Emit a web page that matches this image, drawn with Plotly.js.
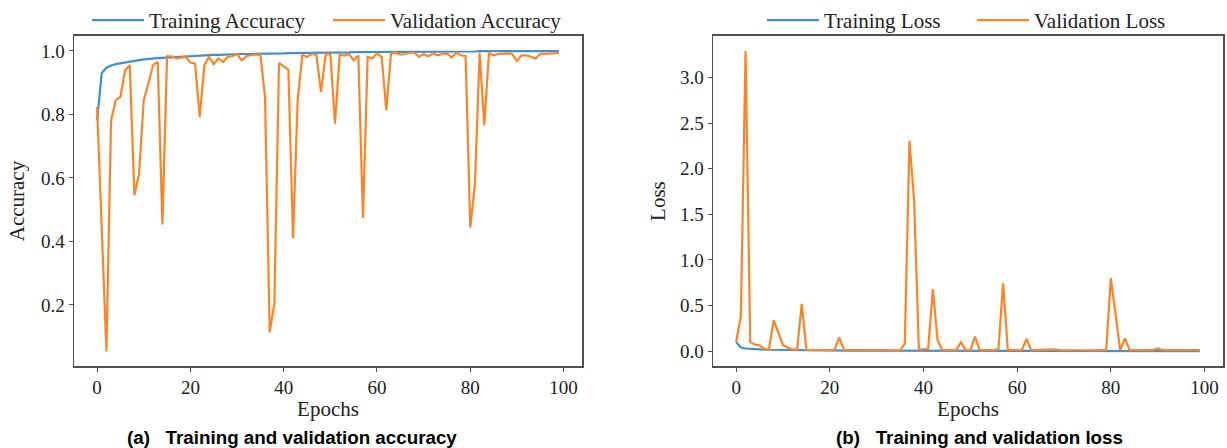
<!DOCTYPE html>
<html>
<head>
<meta charset="utf-8">
<script src="https://cdn.plot.ly/plotly-3.0.1.min.js"></script>
<style>html,body{margin:0;padding:0;background:#fff;}#chart{width:1227px;height:448px;}</style>
</head>
<body>
<div id="chart"></div>
<script>
// ---- data ----
const epochs = Array.from({length: 100}, (_, i) => i);

const trainAccuracy = [
  0.780, 0.930, 0.947, 0.954, 0.958, 0.961, 0.964, 0.967, 0.969, 0.971,
  0.973, 0.975, 0.976, 0.977, 0.978, 0.979, 0.980, 0.981, 0.982, 0.983,
  0.984, 0.985, 0.985, 0.986, 0.986, 0.987, 0.987, 0.988, 0.988, 0.989,
  0.989, 0.990, 0.990, 0.990, 0.991, 0.991, 0.991, 0.991, 0.992, 0.992,
  0.992, 0.993, 0.993, 0.993, 0.993, 0.994, 0.994, 0.994, 0.994, 0.994,
  0.995, 0.995, 0.995, 0.995, 0.995, 0.996, 0.996, 0.996, 0.996, 0.996,
  0.996, 0.997, 0.997, 0.997, 0.997, 0.997, 0.997, 0.997, 0.997, 0.998,
  0.998, 0.998, 0.998, 0.998, 0.998, 0.998, 0.998, 0.998, 0.998, 0.998,
  0.998, 0.998, 0.999, 0.999, 0.999, 0.999, 0.999, 0.999, 0.999, 0.999,
  0.999, 0.999, 0.999, 0.999, 0.999, 0.999, 0.999, 0.999, 0.999, 0.999
];

const valAccuracy = [
  0.823, 0.440, 0.054, 0.781, 0.845, 0.855, 0.939, 0.955, 0.545, 0.613,
  0.845, 0.897, 0.955, 0.965, 0.453, 0.983, 0.983, 0.976, 0.979, 0.981,
  0.963, 0.960, 0.792, 0.955, 0.981, 0.958, 0.976, 0.965, 0.981, 0.983,
  0.990, 0.970, 0.983, 0.987, 0.988, 0.988, 0.855, 0.114, 0.203, 0.962,
  0.951, 0.941, 0.411, 0.845, 0.988, 0.981, 0.990, 0.988, 0.871, 0.988,
  0.990, 0.771, 0.988, 0.985, 0.990, 0.970, 0.985, 0.474, 0.981, 0.976,
  0.992, 0.981, 0.813, 0.992, 0.994, 0.988, 0.990, 0.994, 0.994, 0.981,
  0.990, 0.983, 0.992, 0.986, 0.990, 0.992, 0.979, 0.994, 0.986, 0.983,
  0.443, 0.580, 0.994, 0.766, 0.992, 0.986, 0.990, 0.992, 0.992, 0.990,
  0.968, 0.986, 0.986, 0.981, 0.976, 0.990, 0.990, 0.992, 0.992, 0.994
];

const trainLoss = [
  0.100, 0.040, 0.030, 0.025, 0.022, 0.020, 0.018, 0.016, 0.015, 0.014,
  0.013, 0.012, 0.012, 0.011, 0.011, 0.010, 0.010, 0.009, 0.009, 0.009,
  0.008, 0.008, 0.008, 0.008, 0.007, 0.007, 0.007, 0.007, 0.007, 0.006,
  0.006, 0.006, 0.006, 0.006, 0.006, 0.005, 0.005, 0.005, 0.005, 0.005,
  0.005, 0.005, 0.005, 0.005, 0.004, 0.004, 0.004, 0.004, 0.004, 0.004,
  0.004, 0.004, 0.004, 0.004, 0.004, 0.004, 0.003, 0.003, 0.003, 0.003,
  0.003, 0.003, 0.003, 0.003, 0.003, 0.003, 0.003, 0.003, 0.003, 0.003,
  0.003, 0.003, 0.003, 0.003, 0.003, 0.002, 0.002, 0.002, 0.002, 0.002,
  0.002, 0.002, 0.002, 0.002, 0.002, 0.002, 0.002, 0.002, 0.002, 0.002,
  0.002, 0.002, 0.002, 0.002, 0.002, 0.002, 0.002, 0.002, 0.002, 0.002
];

const valLoss = [
  0.100, 0.390, 3.290, 0.100, 0.073, 0.066, 0.026, 0.020, 0.340, 0.210,
  0.066, 0.040, 0.020, 0.015, 0.520, 0.015, 0.012, 0.012, 0.013, 0.012,
  0.012, 0.014, 0.153, 0.015, 0.012, 0.013, 0.012, 0.011, 0.012, 0.013,
  0.011, 0.012, 0.010, 0.011, 0.012, 0.010, 0.080, 2.310, 1.650, 0.020,
  0.020, 0.030, 0.680, 0.120, 0.012, 0.011, 0.012, 0.013, 0.100, 0.012,
  0.012, 0.160, 0.013, 0.011, 0.012, 0.012, 0.020, 0.745, 0.012, 0.011,
  0.012, 0.013, 0.135, 0.012, 0.011, 0.012, 0.010, 0.011, 0.020, 0.012,
  0.011, 0.012, 0.010, 0.011, 0.012, 0.011, 0.012, 0.010, 0.011, 0.012,
  0.800, 0.400, 0.012, 0.140, 0.012, 0.011, 0.010, 0.011, 0.012, 0.011,
  0.030, 0.012, 0.011, 0.012, 0.013, 0.011, 0.010, 0.011, 0.012, 0.011
];

const xTicks = [0, 20, 40, 60, 80, 100];
const accTicks = [0.2, 0.4, 0.6, 0.8, 1.0];
const lossTicks = [0.0, 0.5, 1.0, 1.5, 2.0, 2.5, 3.0];

// ---- style ----
const W = 1227, H = 448;
const BLUE = '#3f8fd2', ORANGE = '#fd8424';
const FRAME = '#505050';
const serif = 'Liberation Serif, Times New Roman, serif';
const px = v => v / W;
const py = v => (H - v) / H;

const traces = [
  {x: epochs, y: trainAccuracy, name: 'Training Accuracy', type: 'scatter', mode: 'lines',
   line: {color: BLUE, width: 2.2}, xaxis: 'x', yaxis: 'y', legend: 'legend'},
  {x: epochs, y: valAccuracy, name: 'Validation Accuracy', type: 'scatter', mode: 'lines',
   line: {color: ORANGE, width: 2.2}, xaxis: 'x', yaxis: 'y', legend: 'legend2'},
  {x: epochs, y: trainLoss, name: 'Training Loss', type: 'scatter', mode: 'lines',
   line: {color: BLUE, width: 2.2}, xaxis: 'x2', yaxis: 'y2', legend: 'legend3'},
  {x: epochs, y: valLoss, name: 'Validation Loss', type: 'scatter', mode: 'lines',
   line: {color: ORANGE, width: 2.2}, xaxis: 'x2', yaxis: 'y2', legend: 'legend4'}
];

const axisBase = {
  showline: true, mirror: true, linecolor: FRAME, linewidth: 1.5,
  ticks: 'outside', ticklen: 4, tickwidth: 1, tickcolor: FRAME,
  showgrid: false, zeroline: false, tickfont: {family: serif, size: 19, color: '#222'}
};

const yDom = [py(366), py(35)];

const ITEMW = 52;
const legBase = {orientation: 'h', xanchor: 'left', yanchor: 'middle', bgcolor: 'rgba(0,0,0,0)',
  borderwidth: 0, itemwidth: ITEMW, font: {family: serif, size: 21, color: '#222'}, y: py(20)};

const layout = {
  width: W, height: H,
  margin: {l: 0, r: 0, t: 0, b: 0},
  paper_bgcolor: '#ffffff', plot_bgcolor: '#ffffff',
  font: {family: serif, size: 19, color: '#222'},
  showlegend: true,
  xaxis: Object.assign({}, axisBase, {
    domain: [px(74), px(582)], range: [-4.95, 103.95], tickvals: xTicks, anchor: 'y',
    title: {text: 'Epochs', font: {family: serif, size: 21, color: '#222'}, standoff: 4}
  }),
  yaxis: Object.assign({}, axisBase, {
    domain: yDom, range: [0.007, 1.047], tickvals: accTicks, tickformat: '.1f', anchor: 'x',
    title: {text: 'Accuracy', font: {family: serif, size: 21, color: '#222'}, standoff: 10}
  }),
  xaxis2: Object.assign({}, axisBase, {
    domain: [px(713), px(1223)], range: [-4.95, 103.95], tickvals: xTicks, anchor: 'y2',
    title: {text: 'Epochs', font: {family: serif, size: 21, color: '#222'}, standoff: 4}
  }),
  yaxis2: Object.assign({}, axisBase, {
    domain: yDom, range: [-0.164, 3.456], tickvals: lossTicks, tickformat: '.1f', anchor: 'x2',
    title: {text: 'Loss', font: {family: serif, size: 21, color: '#222'}, standoff: 8}
  }),
  legend: Object.assign({}, legBase, {x: px(149 - ITEMW - 10)}),
  legend2: Object.assign({}, legBase, {x: px(390 - ITEMW - 10)}),
  legend3: Object.assign({}, legBase, {x: px(824 - ITEMW - 10)}),
  legend4: Object.assign({}, legBase, {x: px(1034 - ITEMW - 10)}),
  annotations: [
    {xref: 'paper', yref: 'paper', x: px(125), y: py(437), xanchor: 'left', yanchor: 'middle',
     showarrow: false, text: '<b>(a)&nbsp;&nbsp;&nbsp;Training and validation accuracy</b>',
     font: {family: 'Liberation Sans, Arial, sans-serif', size: 18.8, color: '#000'}},
    {xref: 'paper', yref: 'paper', x: px(834), y: py(437), xanchor: 'left', yanchor: 'middle',
     showarrow: false, text: '<b>(b)&nbsp;&nbsp;&nbsp;Training and validation loss</b>',
     font: {family: 'Liberation Sans, Arial, sans-serif', size: 18.8, color: '#000'}}
  ]
};

Plotly.newPlot('chart', traces, layout, {displayModeBar: false, staticPlot: true});
</script>
</body>
</html>
